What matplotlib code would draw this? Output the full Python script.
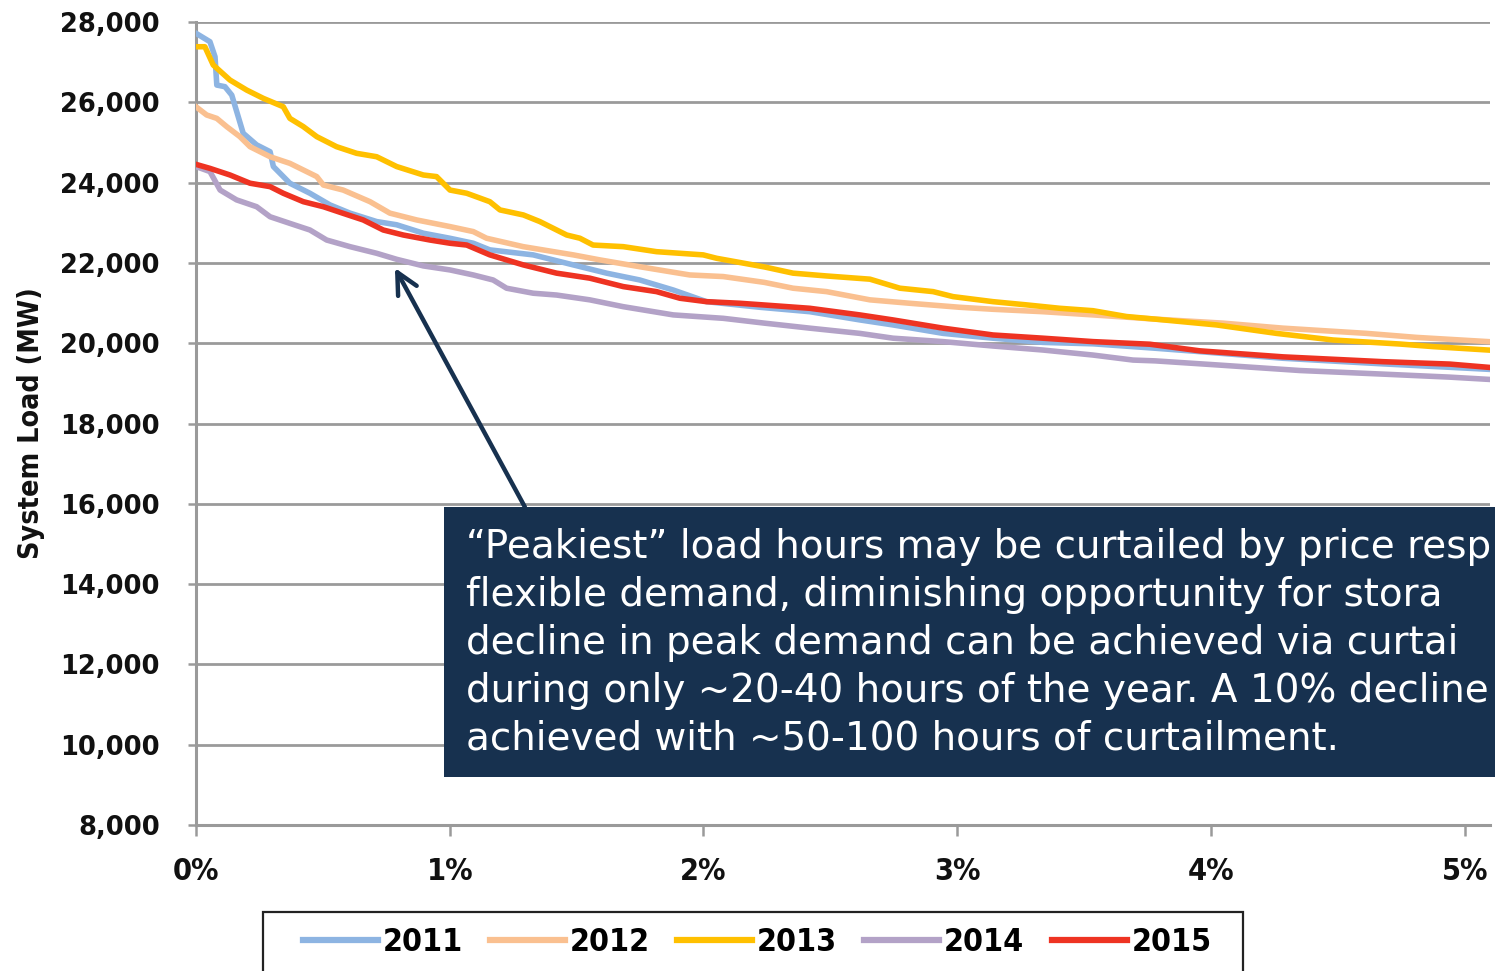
"""Load duration curve: top 5% of hours, 2011-2015."""
import matplotlib
matplotlib.use("Agg")
import matplotlib.pyplot as plt
from matplotlib.lines import Line2D
from matplotlib.patches import Rectangle
from matplotlib.ticker import FuncFormatter
from matplotlib.font_manager import FontProperties

# share of hours in the year (%) and system load (MW)
x_2011 = [0.0, 0.055, 0.075, 0.082, 0.114, 0.141, 0.186, 0.239, 0.292, 0.305,
          0.370, 0.449, 0.528, 0.607, 0.712, 0.791, 0.896, 1.0, 1.093, 1.158,
          1.329, 1.487, 1.618, 1.749, 1.881, 2.012, 2.222, 2.419, 2.616, 2.747,
          2.944, 3.141, 3.338, 3.535, 3.78, 3.956, 4.284, 4.678, 4.941, 5.092]
load_2011 = [27720, 27510, 27135, 26430, 26390, 26180, 25230, 24940, 24770, 24400,
             23985, 23735, 23445, 23240, 23030, 22950, 22740, 22615, 22490, 22325,
             22200, 21950, 21745, 21575, 21325, 21035, 20895, 20785, 20580, 20455,
             20245, 20125, 20020, 19985, 19875, 19790, 19625, 19485, 19400, 19350]

x_2012 = [0.0, 0.042, 0.082, 0.121, 0.173, 0.213, 0.292, 0.370, 0.423, 0.476,
          0.502, 0.580, 0.686, 0.764, 0.870, 1.001, 1.093, 1.145, 1.290, 1.487,
          1.592, 1.749, 1.946, 2.078, 2.24, 2.353, 2.485, 2.656, 2.813, 3.010,
          3.141, 3.338, 3.535, 3.78, 4.048, 4.284, 4.613, 4.810, 5.092]
load_2012 = [25890, 25685, 25600, 25395, 25145, 24895, 24645, 24480, 24315, 24150,
             23940, 23815, 23525, 23240, 23070, 22905, 22780, 22615, 22405, 22200,
             22075, 21905, 21700, 21660, 21515, 21370, 21285, 21080, 20995, 20895,
             20845, 20785, 20705, 20600, 20500, 20375, 20245, 20145, 20040]

x_2013 = [0.0, 0.035, 0.068, 0.134, 0.200, 0.265, 0.344, 0.370, 0.423, 0.476,
          0.554, 0.633, 0.712, 0.791, 0.896, 0.948, 1.001, 1.067, 1.158, 1.198,
          1.290, 1.355, 1.461, 1.513, 1.565, 1.684, 1.815, 1.999, 2.052, 2.24,
          2.353, 2.485, 2.656, 2.774, 2.905, 2.984, 3.141, 3.273, 3.404, 3.535,
          3.667, 3.78, 4.022, 4.258, 4.481, 4.744, 4.876, 5.092]
load_2013 = [27385, 27385, 26930, 26555, 26305, 26100, 25890, 25600, 25395, 25145,
             24895, 24730, 24645, 24400, 24190, 24150, 23815, 23735, 23525, 23320,
             23195, 23030, 22695, 22615, 22445, 22405, 22280, 22200, 22115, 21900,
             21745, 21675, 21595, 21370, 21285, 21160, 21035, 20955, 20870, 20810,
             20665, 20600, 20455, 20245, 20080, 19980, 19915, 19830]

x_2014 = [0.0, 0.055, 0.095, 0.160, 0.239, 0.292, 0.370, 0.449, 0.515, 0.607,
          0.712, 0.791, 0.896, 1.001, 1.093, 1.171, 1.224, 1.329, 1.421, 1.552,
          1.684, 1.881, 2.078, 2.24, 2.419, 2.616, 2.747, 2.944, 3.141, 3.338,
          3.535, 3.693, 3.78, 4.022, 4.350, 4.678, 4.941, 5.092]
load_2014 = [24400, 24275, 23815, 23570, 23400, 23150, 22985, 22820, 22570, 22405,
             22240, 22090, 21925, 21825, 21700, 21575, 21370, 21245, 21200, 21080,
             20910, 20705, 20620, 20500, 20375, 20245, 20125, 20040, 19930, 19830,
             19705, 19580, 19560, 19460, 19320, 19230, 19155, 19100]

x_2015 = [0.0, 0.055, 0.134, 0.213, 0.292, 0.344, 0.423, 0.502, 0.580, 0.659,
          0.738, 0.817, 0.922, 1.001, 1.067, 1.158, 1.290, 1.421, 1.552, 1.684,
          1.815, 1.907, 2.012, 2.143, 2.222, 2.419, 2.616, 2.747, 2.944, 3.141,
          3.338, 3.535, 3.759, 3.956, 4.284, 4.678, 4.941, 5.092]
load_2015 = [24455, 24355, 24190, 23985, 23900, 23735, 23525, 23400, 23235, 23070,
             22820, 22695, 22570, 22490, 22445, 22200, 21950, 21745, 21620, 21410,
             21285, 21120, 21035, 20995, 20960, 20870, 20705, 20580, 20375, 20205,
             20125, 20040, 19975, 19810, 19660, 19540, 19480, 19400]

years = ["2011", "2012", "2013", "2014", "2015"]
xs = [x_2011, x_2012, x_2013, x_2014, x_2015]
loads = [load_2011, load_2012, load_2013, load_2014, load_2015]
colors = ["#8DB4E2", "#FAC090", "#FFC000", "#B3A2C7", "#EE3322"]

y_ticks = list(range(8000, 28001, 2000))
x_ticks = [0, 1, 2, 3, 4, 5]

callout_lines = [
    "\u201cPeakiest\u201d load hours may be curtailed by price resp",
    "flexible demand, diminishing opportunity for stora",
    "decline in peak demand can be achieved via curtai",
    "during only ~20-40 hours of the year. A 10% decline",
    "achieved with ~50-100 hours of curtailment.",
]
arrow_tip = (0.784, 21875)
arrow_tail = (1.296, 15923)

NAVY = "#17314F"
GRID = "#9A9A9A"


def narrow(size):
    # condensed bold face for the Excel-style labels
    return FontProperties(family="DejaVu Sans", stretch="condensed",
                          weight="bold", size=size)


fig = plt.figure(figsize=(14.95, 9.71), dpi=100)
ax = fig.add_axes([0.1311, 0.1504, 0.8656, 0.8269])

for yr, x, y, c in zip(years, xs, loads, colors):
    ax.plot(x, y, color=c, lw=4.0, solid_joinstyle="round", zorder=3)

ax.set_xlim(0, 5.1)
ax.set_ylim(8000, 28000)
ax.set_yticks(y_ticks)
ax.set_xticks(x_ticks)
ax.yaxis.set_major_formatter(FuncFormatter(lambda v, _: f"{int(v):,}"))
ax.xaxis.set_major_formatter(FuncFormatter(lambda v, _: f"{int(v)}%"))
ax.grid(axis="y", color=GRID, lw=2.0, zorder=1)
ax.set_axisbelow(True)
for s in ["top", "right"]:
    ax.spines[s].set_visible(False)
for s in ["left", "bottom"]:
    ax.spines[s].set_color(GRID)
    ax.spines[s].set_linewidth(2.2)
ax.tick_params(axis="y", length=6, width=1.8, color=GRID, pad=20)
ax.tick_params(axis="x", length=8, width=1.8, color=GRID, pad=15)
for lab in ax.get_yticklabels():
    lab.set_fontfamily("DejaVu Sans")
    lab.set_fontweight("bold")
    lab.set_fontsize(18.5)
    lab.set_color("#111111")
for lab in ax.get_xticklabels():
    lab.set_fontproperties(narrow(22))
    lab.set_color("#111111")
ax.set_ylabel("System Load (MW)", fontproperties=narrow(20.5), color="#111111")
ax.yaxis.set_label_coords(-0.1165, 0.5)

# callout box (runs off the right edge like the source slide)
fig.patches.append(Rectangle((0.297, 0.1998), 0.72, 0.278, transform=fig.transFigure,
                             facecolor=NAVY, edgecolor="none", zorder=5))
fig.text(0.3117, 0.4565, "\n".join(callout_lines), color="white", fontsize=28,
         family="DejaVu Sans", va="top", ha="left", linespacing=1.335, zorder=6)

ax.annotate("", xy=arrow_tip, xytext=arrow_tail,
            arrowprops=dict(arrowstyle="->", color=NAVY, lw=3.2,
                            mutation_scale=38, shrinkA=0, shrinkB=0), zorder=4)

# legend, frame drawn by hand so it can run off the bottom
fig.patches.append(Rectangle((0.1759, -0.05), 0.6555, 0.111, transform=fig.transFigure,
                             facecolor="white", edgecolor="#222222", lw=1.6, zorder=5))
handles = [Line2D([], [], color=c, lw=4.5) for c in colors]
leg = fig.legend(handles, years, loc="center left", bbox_to_anchor=(0.194, 0.029),
                 ncol=5, frameon=False, handlelength=2.35, handletextpad=0.15,
                 columnspacing=0.85, borderaxespad=0, prop=narrow(23))
leg.set_zorder(6)

fig.savefig("out.png", dpi=100, facecolor="white")
